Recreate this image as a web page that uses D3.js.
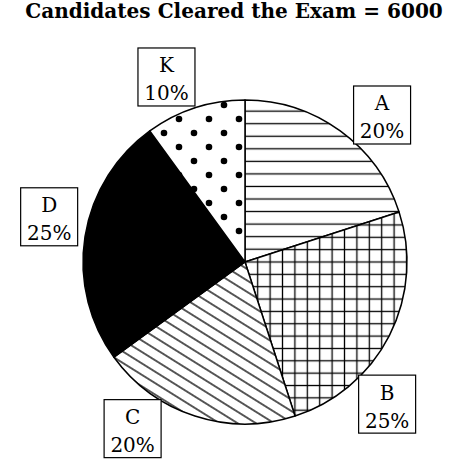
<!DOCTYPE html>
<html>
<head>
<meta charset="utf-8">
<script src="https://cdn.jsdelivr.net/npm/d3@7"></script>
<style>
  body { margin: 0; background: #fff; }
  svg { display: block; }
</style>
</head>
<body>
<div id="app"></div>
<script>
var categories = ['A', 'B', 'C', 'D', 'K'];
var percents = [20, 25, 20, 25, 10];
var totalCleared = 6000;
var titleText = 'Candidates Cleared the Exam = ' + totalCleared;
var fills = ['url(#hlines)', 'url(#grid)', 'url(#diag)', '#000', 'url(#dots)'];

// where each label box sits, degrees clockwise from 12 o'clock
var labelAngles = [43, 135, 214, 283, 337];

var width = 449, height = 459,
    cx = 245, cy = 262,
    radius = 162,
    labelRadius = 201,
    boxW = 57, boxH = 58;

var svg = d3.select('#app').append('svg')
            .attr('width', width)
            .attr('height', height);

var defs = svg.append('defs');

// horizontal lines
var hl = defs.append('pattern')
             .attr('id', 'hlines')
             .attr('patternUnits', 'userSpaceOnUse')
             .attr('x', 0).attr('y', 6.05)
             .attr('width', 12.5).attr('height', 12.55);
hl.append('rect').attr('width', 12.5).attr('height', 12.55).attr('fill', '#fff');
hl.append('line').attr('x1', 0).attr('x2', 12.5).attr('y1', 6.25).attr('y2', 6.25)
  .attr('stroke', '#000').attr('stroke-width', 1.3);

// square grid
var gr = defs.append('pattern')
             .attr('id', 'grid')
             .attr('patternUnits', 'userSpaceOnUse')
             .attr('x', -5.9).attr('y', -6.2)
             .attr('width', 12.4).attr('height', 12.35);
gr.append('rect').attr('width', 12.4).attr('height', 12.35).attr('fill', '#fff');
gr.append('line').attr('x1', 6.2).attr('x2', 6.2).attr('y1', 0).attr('y2', 12.35)
  .attr('stroke', '#000').attr('stroke-width', 1.3);
gr.append('line').attr('x1', 0).attr('x2', 12.4).attr('y1', 6.2).attr('y2', 6.2)
  .attr('stroke', '#000').attr('stroke-width', 1.3);

// diagonal hatch
var dg = defs.append('pattern')
             .attr('id', 'diag')
             .attr('patternUnits', 'userSpaceOnUse')
             .attr('width', 20).attr('height', 9.7)
             .attr('patternTransform', 'rotate(32)');
dg.append('rect').attr('width', 20).attr('height', 9.7).attr('fill', '#fff');
dg.append('line').attr('x1', 0).attr('x2', 20).attr('y1', 4.85).attr('y2', 4.85)
  .attr('stroke', '#000').attr('stroke-width', 1.3);

// dots
var dt = defs.append('pattern')
             .attr('id', 'dots')
             .attr('patternUnits', 'userSpaceOnUse')
             .attr('x', 2).attr('y', 4)
             .attr('width', 30).attr('height', 28);
dt.append('rect').attr('width', 30).attr('height', 28).attr('fill', '#fff');
dt.append('circle').attr('cx', 7).attr('cy', 7).attr('r', 3.3).attr('fill', '#000');
dt.append('circle').attr('cx', 22).attr('cy', 21).attr('r', 3.3).attr('fill', '#000');

// title
var title = svg.append('text')
               .attr('x', 234)
               .attr('y', 17.5)
               .attr('text-anchor', 'middle')
               .style('font-family', '"DejaVu Serif", serif')
               .style('font-weight', 'bold')
               .style('font-size', '17px')
               .text(titleText);
var tl = title.node().getComputedTextLength();
title.style('font-size', (17 * 418 / tl) + 'px');

// pie
var pie = d3.pie().sort(null).value(function(d){ return d; });
var arc = d3.arc().innerRadius(0).outerRadius(radius);
var arcs = pie(percents);

var g = svg.append('g').attr('transform', 'translate(' + cx + ',' + cy + ')');

g.selectAll('path.slice')
 .data(arcs)
 .enter().append('path')
 .attr('class', 'slice')
 .attr('d', arc)
 .attr('fill', function(d, i){ return fills[i]; })
 .attr('stroke', '#000')
 .attr('stroke-width', 1.5)
 .attr('stroke-linejoin', 'round');

// label boxes
var labels = g.selectAll('g.label')
              .data(arcs)
              .enter().append('g')
              .attr('class', 'label')
              .attr('transform', function(d, i){
                var a = labelAngles[i] * Math.PI / 180;
                return 'translate(' + (labelRadius * Math.sin(a)) + ',' + (-labelRadius * Math.cos(a)) + ')';
              });

labels.append('rect')
      .attr('x', -boxW/2)
      .attr('y', -boxH/2)
      .attr('width', boxW)
      .attr('height', boxH)
      .attr('fill', '#fff')
      .attr('stroke', '#000')
      .attr('stroke-width', 1.2);

labels.append('text')
      .attr('x', 0)
      .attr('y', -4.5)
      .attr('text-anchor', 'middle')
      .style('font-family', '"DejaVu Serif", serif')
      .style('font-size', '20px')
      .text(function(d, i){ return categories[i]; });

labels.append('text')
      .attr('x', 0)
      .attr('y', 23.5)
      .attr('text-anchor', 'middle')
      .style('font-family', '"DejaVu Serif", serif')
      .style('font-size', '20px')
      .text(function(d, i){ return percents[i] + '%'; });
</script>
</body>
</html>
